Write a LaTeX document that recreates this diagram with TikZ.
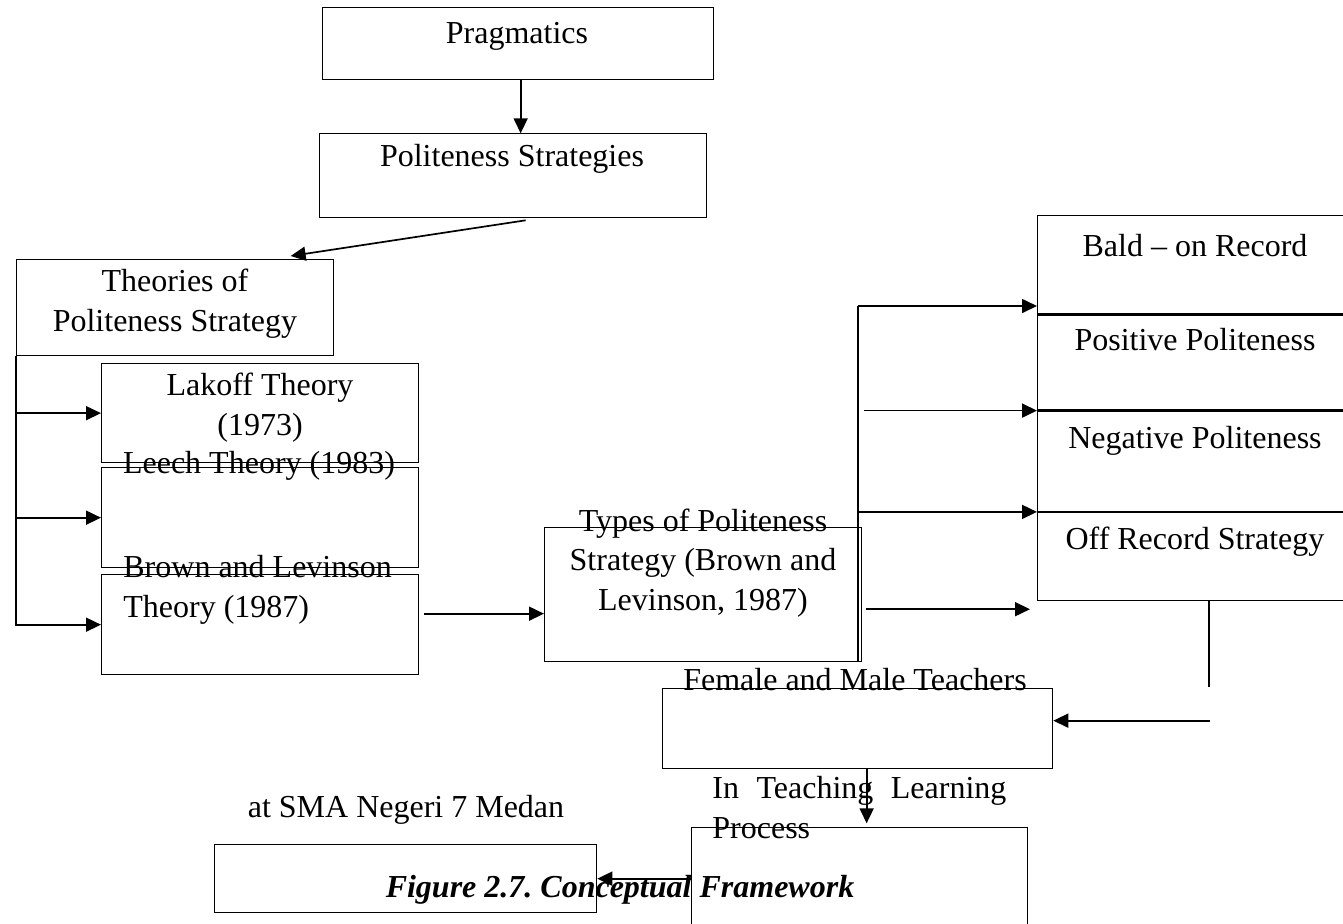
\documentclass[tikz,border=0pt]{standalone}
\usepackage{fontspec}
\setmainfont{Liberation Serif}
\usetikzlibrary{arrows.meta,positioning,calc}
\frenchspacing
\tikzset{
  box/.style={draw, line width=0.65pt, inner sep=0pt, anchor=north west},
  txt/.style={font=\fontsize{16}{19.75}\selectfont, inner sep=0pt, anchor=base, align=center},
  arr/.style={line width=0.85pt, -{Triangle[length=7.5pt,width=7pt]}},
  bar/.style={line width=0.85pt}
}
\begin{document}
\begin{tikzpicture}[x=0.5pt,y=-0.5pt]
\useasboundingbox (0,0) rectangle (1343,923);
\node[box, minimum width=195.5pt, minimum height=36pt] (prag) at (322,7) {};
\node[box, minimum width=193.5pt, minimum height=42pt] (polite) at (319,133) {};
\node[box, minimum width=158.5pt, minimum height=48pt] (theories) at (16,259) {};
\node[box, minimum width=158.5pt, minimum height=49.5pt] (lakoff) at (101,363) {};
\node[box, minimum width=158.5pt, minimum height=50pt] (leech) at (101,467) {};
\node[box, minimum width=158.5pt, minimum height=50pt] (brown) at (101,574) {};
\node[box, minimum width=158.5pt, minimum height=67pt] (types) at (544,527) {};
\node[box, minimum width=158pt, minimum height=49pt] (bald) at (1037,215) {};
\node[box, minimum width=158pt, minimum height=47.5pt] (posit) at (bald.south west) {};
\node[box, minimum width=158pt, minimum height=50pt] (negat) at (posit.south west) {};
\node[box, minimum width=158pt, minimum height=44pt] (offrec) at (negat.south west) {};
\node[box, minimum width=195pt, minimum height=40pt] (teach) at (662,688) {};
\node[box, minimum width=168pt, minimum height=55pt] (process) at (691,827) {};
\node[box, minimum width=191pt, minimum height=34pt] (sma) at (214,844) {};

\node[txt] (prag-t) at (517,43) {Pragmatics};
\node[txt] (polite-t) at (512,166) {Politeness Strategies};
\node[txt] (theories-t) at (175,331) {Theories of\\Politeness Strategy};
\node[txt] (lakoff-t) at (260,435) {Lakoff Theory\\(1973)};
\node[txt] (leech-t) at (259,473) {Leech Theory (1983)};
\node[txt, anchor=base west, align=left] (brown-t) at (123,617) {Brown and Levinson\\Theory (1987)};
\node[txt] (types-t) at (703,610) {Types of Politeness\\Strategy (Brown and\\Levinson, 1987)};
\node[txt] (bald-t) at (1195,256) {Bald -- on Record};
\node[txt] (posit-t) at (1195,350) {Positive Politeness};
\node[txt] (negat-t) at (1195,448) {Negative Politeness};
\node[txt] (offrec-t) at (1195,549) {Off Record Strategy};
\node[txt] (teach-t) at (855,690) {Female and Male Teachers};
\node[txt, anchor=base west, align=left] (process-t) at (712,838) {\makebox[147pt][s]{In Teaching Learning}\\Process};
\node[txt] (sma-t) at (406,817) {at SMA Negeri 7 Medan};
\node[txt, font=\fontsize{16}{19.75}\selectfont\bfseries\itshape] (caption) at (620,897) {Figure 2.7. Conceptual Framework};

\draw[arr] ($(prag.south)+(2.5,0)$) -- ++(0,53);
\draw[arr] ($(polite.south)+(12.5,2)$) -- ($(theories.north)+(115.5,-3)$);
\draw[arr] (theories.south west) |- (lakoff.west);
\draw[arr] (theories.south west) |- (leech.west);
\draw[arr] (theories.south west) |- (brown.west);
\draw[arr] ($(brown.east)+(5,-11)$) -- ($(types.west)+(0,19)$);
\coordinate (rbus) at ($(types.north east)+(-4,-221)$);
\draw[bar] (rbus) -- ($(types.south east)+(-4,0)$);
\draw[arr] (rbus) -- (rbus -| bald.west);
\draw[arr] ($(rbus |- posit.south west)+(6,0)$) -- (posit.south west);
\draw[arr] (rbus |- negat.south west) -- (negat.south west);
\draw[arr] ($(rbus |- offrec.south west)+(8,8)$) -- ($(offrec.south west)+(-7,8)$);
\draw[bar] ($(offrec.south)+(13,0)$) -- ++(0,86);
\draw[arr] ($(teach.east)+(157,-8)$) -- ($(teach.east)+(0,-8)$);
\draw[arr] ($(teach.south)+(9,0)$) -- ++(0,54);
\draw[arr] (sma.east -| process.west) -- (sma.east);
\end{tikzpicture}
\end{document}
